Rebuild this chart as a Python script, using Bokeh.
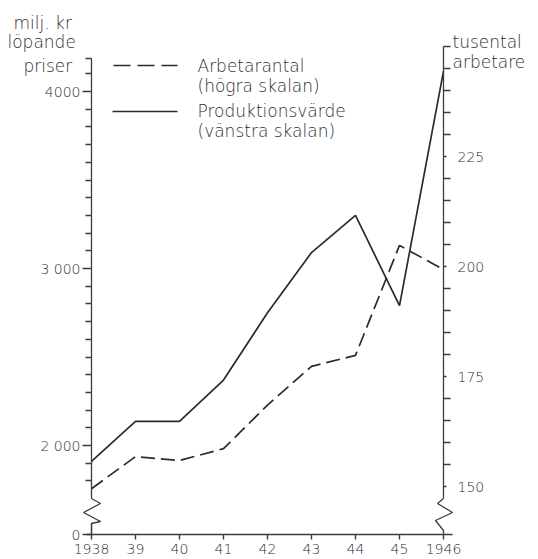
from bokeh.plotting import figure
from bokeh.models import LinearAxis, Range1d, FixedTicker
from bokeh.embed import file_html
from bokeh.resources import INLINE
from bokeh.core.properties import value

# ---------------- data ----------------
years = [1938, 1939, 1940, 1941, 1942, 1943, 1944, 1945, 1946]
year_labels = ["1938", "39", "40", "41", "42", "43", "44", "45", "1946"]
produktionsvarde = [1910, 2136, 2136, 2370, 2750, 3090, 3300, 2790, 4115]   # milj. kr (vänstra skalan)
arbetarantal = [149.5, 156.8, 155.9, 158.6, 168.5, 177.3, 179.8, 204.8, 199.3]  # tusental (högra skalan)
left_ticks = [2000, 3000, 4000]
left_tick_labels = ["2 000", "3 000", "4000"]
right_ticks = [150, 175, 200, 225]
left_unit_texts = ["milj. kr", "löpande", "priser"]
right_unit_texts = ["tusental", "arbetare"]
legend_texts = ["Arbetarantal", "(högra skalan)", "Produktionsvärde", "(vänstra skalan)"]

# ---------------- geometry (canvas pixels) ----------------
W, H = 538, 559


def xv(px):
    return 1938 + (px - 91) / 44.0


def lv(py):
    return 2000 + (445 - py) / 0.177


def rv(py):
    return 200 + (266 - py) / 4.4


ZERO = 1497
L_TOP = lv(58)
L_BREAK = lv(498)
R_TOP = rv(46)
R_BREAK = rv(498)

INK = "#2b2b2b"
AX = "#3c3c3c"
TXT = "#2e2e2e"
FONT = "DejaVu Sans Light, DejaVu Sans"

p = figure(width=W, height=H, output_backend="svg", toolbar_location=None,
           x_axis_type=None, y_axis_type=None, min_border=0,
           x_range=Range1d(xv(0), xv(W)), y_range=Range1d(lv(H), lv(0)))
p.extra_y_ranges = {"right": Range1d(rv(H), rv(0))}
p.background_fill_color = "white"
p.border_fill_color = "white"
p.outline_line_color = None


def style(ax, size="14px"):
    ax.axis_line_color = AX
    ax.axis_line_width = 1.3
    ax.major_tick_line_color = AX
    ax.minor_tick_line_color = AX
    ax.major_tick_line_width = 1.4
    ax.minor_tick_line_width = 1.4
    ax.major_tick_in = 0
    ax.minor_tick_in = 0
    ax.major_label_text_font = FONT
    ax.major_label_text_font_size = size
    ax.major_label_text_color = TXT


# left axis (upper, continuous part)
left_minor = [v for v in range(1800, 4200, 100) if v not in left_ticks] + [L_TOP]
la = LinearAxis(fixed_location=1938, bounds=(L_BREAK, L_TOP),
                ticker=FixedTicker(ticks=left_ticks, minor_ticks=left_minor),
                major_label_overrides={t: s for t, s in zip(left_ticks, left_tick_labels)})
style(la)
la.major_tick_out = 9
la.minor_tick_out = 6
la.major_label_standoff = 2
p.add_layout(la, "left")

# left axis zero stub
lz = LinearAxis(fixed_location=1938, bounds=(ZERO, lv(523)),
                ticker=FixedTicker(ticks=[ZERO], minor_ticks=[]),
                major_label_overrides={ZERO: "0"})
style(lz)
lz.major_tick_out = 9
lz.major_label_standoff = 2
p.add_layout(lz, "left")

# right axis
right_minor = [v for v in range(155, 250, 5) if v not in right_ticks] + [R_TOP]
ra = LinearAxis(y_range_name="right", fixed_location=1946, bounds=(R_BREAK, R_TOP),
                ticker=FixedTicker(ticks=right_ticks, minor_ticks=right_minor))
style(ra)
ra.major_tick_out = 3
ra.minor_tick_out = 7
ra.major_label_standoff = 7
p.add_layout(ra, "right")

# x axis
xa = LinearAxis(fixed_location=ZERO, bounds=(xv(86), xv(452)),
                ticker=FixedTicker(ticks=years, minor_ticks=[]),
                major_label_overrides={y: s for y, s in zip(years, year_labels)})
style(xa)
xa.major_tick_out = 5
xa.major_label_standoff = 4
p.add_layout(xa, "below")

# axis break zigzags
p.line([xv(91), xv(100), xv(83), xv(100), xv(91), xv(91)],
       [lv(498), lv(503), lv(512), lv(521), lv(523), lv(534)],
       line_color=AX, line_width=1.3)
p.line([xv(443), xv(437), xv(452), xv(435), xv(443), xv(443)],
       [rv(498), rv(503), rv(512), rv(520), rv(530), rv(534)],
       y_range_name="right", line_color=AX, line_width=1.3)

# data lines
p.line(years, produktionsvarde, line_color=INK, line_width=1.7)
p.line(years, arbetarantal, y_range_name="right", line_color=INK, line_width=1.7,
       line_dash="14 6")

# legend
p.line([xv(113), xv(177)], [lv(65), lv(65)], line_color=INK, line_width=1.7, line_dash="17 7")
p.line([xv(112), xv(177)], [lv(111), lv(111)], line_color=INK, line_width=1.7)

txt = dict(text_font=value(FONT), text_font_size="17px", text_color=TXT,
           text_align="left", text_baseline="middle")
p.text(x=[xv(197)] * 4, y=[lv(65), lv(85), lv(110), lv(130)], text=legend_texts, **txt)
p.text(x=[xv(13), xv(7), xv(23)], y=[lv(22), lv(41), lv(65)], text=left_unit_texts, **txt)
p.text(x=[xv(452), xv(452)], y=[lv(41), lv(61)], text=right_unit_texts, **txt)

open("out.html", "w").write(file_html(p, INLINE))
